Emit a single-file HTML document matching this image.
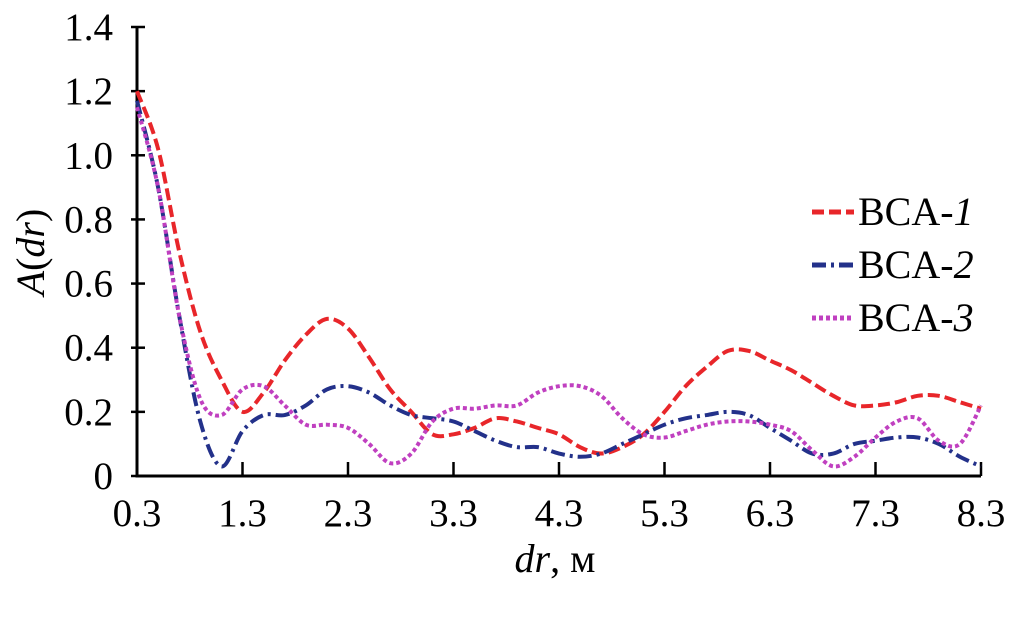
<!DOCTYPE html>
<html><head><meta charset="utf-8"><style>
body{margin:0;background:#fff}
svg{display:block;font-family:"Liberation Serif",serif}
</style></head><body>
<svg id="chart" width="1010" height="628" viewBox="0 0 1010 628"></svg>
<script>
const xValues=[0.3,0.5,0.7,0.9,1.1,1.3,1.5,1.7,1.9,2.1,2.3,2.5,2.7,2.9,3.1,3.3,3.5,3.7,3.9,4.1,4.3,4.5,4.7,4.9,5.1,5.3,5.5,5.7,5.9,6.1,6.3,6.5,6.7,6.9,7.1,7.3,7.5,7.7,7.9,8.1,8.3];
const bca1=[1.2,1.02,0.7,0.45,0.3,0.2,0.26,0.36,0.44,0.49,0.46,0.37,0.27,0.2,0.13,0.13,0.15,0.18,0.17,0.15,0.13,0.09,0.07,0.09,0.13,0.2,0.28,0.34,0.39,0.39,0.36,0.33,0.29,0.25,0.22,0.22,0.23,0.25,0.25,0.23,0.21];
const bca2=[1.17,0.9,0.5,0.17,0.03,0.14,0.19,0.19,0.22,0.27,0.28,0.26,0.22,0.19,0.18,0.17,0.14,0.11,0.09,0.09,0.07,0.06,0.07,0.1,0.13,0.16,0.18,0.19,0.2,0.19,0.15,0.11,0.07,0.07,0.1,0.11,0.12,0.12,0.1,0.06,0.03];
const bca3=[1.15,0.9,0.5,0.24,0.19,0.27,0.28,0.22,0.16,0.16,0.15,0.1,0.04,0.07,0.17,0.21,0.21,0.22,0.22,0.26,0.28,0.28,0.25,0.18,0.13,0.12,0.14,0.16,0.17,0.17,0.16,0.14,0.08,0.03,0.06,0.12,0.17,0.18,0.11,0.1,0.22];
const xTicks=[0.3,1.3,2.3,3.3,4.3,5.3,6.3,7.3,8.3];
const yTicks=[0,0.2,0.4,0.6,0.8,1.0,1.2,1.4];
const yTickLabels=["0","0.2","0.4","0.6","0.8","1.0","1.2","1.4"];

const svg=document.getElementById('chart');
const NS='http://www.w3.org/2000/svg';
const X0=137,X1=981,Y0=476,Y1=27;
const sx=v=>X0+(v-0.3)/8*(X1-X0);
const sy=v=>Y0-v/1.4*(Y0-Y1);
function mk(t,a){const e=document.createElementNS(NS,t);for(const k in a)e.setAttribute(k,a[k]);svg.appendChild(e);return e;}

let ax=mk('path',{d:`M${X0} ${Y1}V${Y0}H${X1}`,stroke:'#000','stroke-width':3,fill:'none'});


yTicks.forEach((v,i)=>{
 let t=mk('line',{x1:X0-6,x2:X0+8,y1:sy(v),y2:sy(v),stroke:'#000','stroke-width':2.5});
 
 
 let l=mk('text',{x:113,y:sy(v)+13,'text-anchor':'end','font-size':39});
 l.textContent=yTickLabels[i];
 
 
});
xTicks.forEach(v=>{
 let t=mk('line',{x1:sx(v),x2:sx(v),y1:Y0,y2:Y0-14,stroke:'#000','stroke-width':2.5});
 
 
 let l=mk('text',{x:sx(v),y:526,'text-anchor':'middle','font-size':39});
 l.textContent=v.toFixed(1);
 
 
});
let xt=mk('text',{x:555,y:572,'text-anchor':'middle','font-size':40});
xt.innerHTML='<tspan font-style="italic">dr</tspan>, м';


let yt=mk('text',{x:0,y:0,'text-anchor':'middle','font-size':40,transform:'translate(44,252) rotate(-90)'});
yt.innerHTML='<tspan font-style="italic">A</tspan>(<tspan font-style="italic">dr</tspan>)';



function smooth(ys){
 const p=xValues.map((x,i)=>[sx(x),sy(ys[i])]);
 let d=`M${p[0][0]} ${p[0][1]}`;
 for(let i=0;i<p.length-1;i++){
  const a=p[Math.max(0,i-1)],b=p[i],c=p[i+1],e=p[Math.min(p.length-1,i+2)];
  d+=`C${b[0]+(c[0]-a[0])/6} ${b[1]+(c[1]-a[1])/6} ${c[0]-(e[0]-b[0])/6} ${c[1]-(e[1]-b[1])/6} ${c[0]} ${c[1]}`;
 }
 return d;
}
const series=[
 {ys:bca1,c:'#e8262a',dash:'12 5',name:'series-bca-1',lbl:'1',ly:225},
 {ys:bca2,c:'#23318a',dash:'14 5 3 5',name:'series-bca-2',lbl:'2',ly:278},
 {ys:bca3,c:'#c040c0',dash:'4 3',name:'series-bca-3',lbl:'3',ly:331}
];
series.forEach(s=>{
 let p=mk('path',{d:smooth(s.ys),stroke:s.c,'stroke-width':4,fill:'none','stroke-dasharray':s.dash});
 
 
 let ll=mk('line',{x1:812,x2:854,y1:s.ly-13,y2:s.ly-13,stroke:s.c,'stroke-width':5,'stroke-dasharray':s.dash});
 
 
 let lt=mk('text',{x:858,y:s.ly,'font-size':40});
 lt.innerHTML='BCA-<tspan font-style="italic">'+s.lbl+'</tspan>';
 
 
});
</script>
</body></html>
